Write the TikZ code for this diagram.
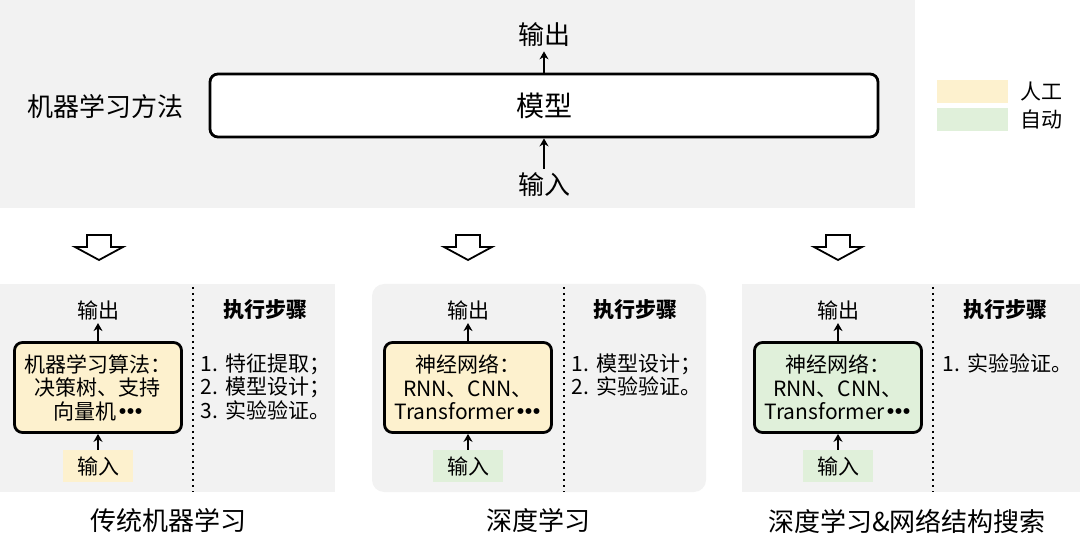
\documentclass[tikz,border=0pt]{standalone}
\usepackage{fontspec}
\setmainfont{Noto Sans CJK SC}
\usepackage{tikz}
\usetikzlibrary{positioning,arrows.meta}
\usepackage{xcolor}
\definecolor{panelgray}{HTML}{F2F2F2}
\definecolor{manualyellow}{HTML}{FDF1CE}
\definecolor{autogreen}{HTML}{E0F0DA}
\newcommand{\middots}{{\bfseries\kern0.1em\makebox[0.38em]{·}\makebox[0.38em]{·}\makebox[0.38em]{·}}}

\begin{document}
\begin{tikzpicture}[
    x=0.5pt, y=-0.5pt,
    big/.style={font=\fontsize{13}{15}\selectfont},
    small/.style={font=\fontsize{10.5}{11.75}\selectfont},
    model/.style={draw, line width=1.4pt, rounded corners=4pt, align=center, small,
      inner sep=0pt, minimum width=83.5pt, minimum height=45pt},
    io/.style={small, inner sep=1.5pt},
    tag/.style={small, inner sep=0pt, minimum width=35pt, minimum height=16pt},
    steps/.style={small, align=left, anchor=north west, inner sep=0pt},
    title/.style={font=\fontsize{10.5}{12}\selectfont\bfseries},
    arr/.style={-{Stealth[length=4pt, width=4.5pt]}, line width=0.9pt},
    hollow/.style={draw, line width=0.9pt, fill=white, line join=miter},
    sep/.style={dotted, line width=1pt}
]
\useasboundingbox (0,0) rectangle (1080,549);

% top: the general method
\fill[panelgray] (0,0) rectangle (915,208);
\node[big] (method) at (105,107) {机器学习方法};
\node[draw, fill=white, line width=1.4pt, rounded corners=4pt, minimum width=334pt,
  minimum height=31.5pt, font=\fontsize{14}{16}\selectfont] (model) at (544,105.5) {模型};
\node[big, inner sep=2pt] (out) at (544,35) {输出};
\node[big, inner sep=2pt] (in) at (544,185) {输入};
\draw[arr] (model) -- (out);
\draw[arr] (in) -- (model);

% legend
\node[fill=manualyellow, minimum width=35.5pt, minimum height=11.5pt] (legman) at (972,91.5) {};
\node[fill=autogreen, minimum width=35.5pt, minimum height=11.5pt] (legauto) at (972,120) {};
\node[small, right=3pt of legman] (legmantext) {人工};
\node[small, right=3pt of legauto] (legautotext) {自动};

% hollow arrows
\foreach \cx in {99,468,838}
  \draw[hollow] (\cx-12,235) -- (\cx+12,235) -- (\cx+12,247) -- (\cx+24,247)
    -- (\cx,260) -- (\cx-24,247) -- (\cx-12,247) -- cycle;

% panels
\fill[panelgray] (0,284) rectangle (335,492);
\fill[panelgray, rounded corners=6pt] (372,284) rectangle (706,492);
\fill[panelgray] (742,284) rectangle (1080,492);
\draw[sep] (193,287) -- (193,492);
\draw[sep] (564,287) -- (564,492);
\draw[sep] (933,287) -- (933,492);

% traditional machine learning
\node[model, fill=manualyellow] (algo) at (98,387.5) {机器学习算法：\\决策树、支持\\向量机\middots};
\node[io] (algoout) at (98,310) {输出};
\node[tag, fill=manualyellow] (algoin) at (98,466) {输入};
\draw[arr] (algo) -- (algoout);
\draw[arr] (algoin) -- (algo);
\node[title] (algotitle) at (265,310) {执行步骤};
\node[steps] (algosteps) at (200,353) {\makebox[12.5pt][l]{1.}特征提取；\\
  \makebox[12.5pt][l]{2.}模型设计；\\ \makebox[12.5pt][l]{3.}实验验证。};
\node[big] (algolabel) at (168,521) {传统机器学习};

% deep learning
\node[model, fill=manualyellow] (dl) at (468,387.5) {神经网络：\\RNN、CNN、\\Transformer\middots};
\node[io] (dlout) at (468,310) {输出};
\node[tag, fill=autogreen] (dlin) at (468,466) {输入};
\draw[arr] (dl) -- (dlout);
\draw[arr] (dlin) -- (dl);
\node[title] (dltitle) at (635,310) {执行步骤};
\node[steps] (dlsteps) at (571,353) {\makebox[12.5pt][l]{1.}模型设计；\\
  \makebox[12.5pt][l]{2.}实验验证。};
\node[big] (dllabel) at (538,521) {深度学习};

% deep learning with architecture search
\node[model, fill=autogreen] (nas) at (838,387.5) {神经网络：\\RNN、CNN、\\Transformer\middots};
\node[io] (nasout) at (838,310) {输出};
\node[tag, fill=autogreen] (nasin) at (838,466) {输入};
\draw[arr] (nas) -- (nasout);
\draw[arr] (nasin) -- (nas);
\node[title] (nastitle) at (1005,310) {执行步骤};
\node[steps] (nassteps) at (942,353) {\makebox[12.5pt][l]{1.}实验验证。};
\node[big] (naslabel) at (907,521) {深度学习\&网络结构搜索};

\end{tikzpicture}
\end{document}
